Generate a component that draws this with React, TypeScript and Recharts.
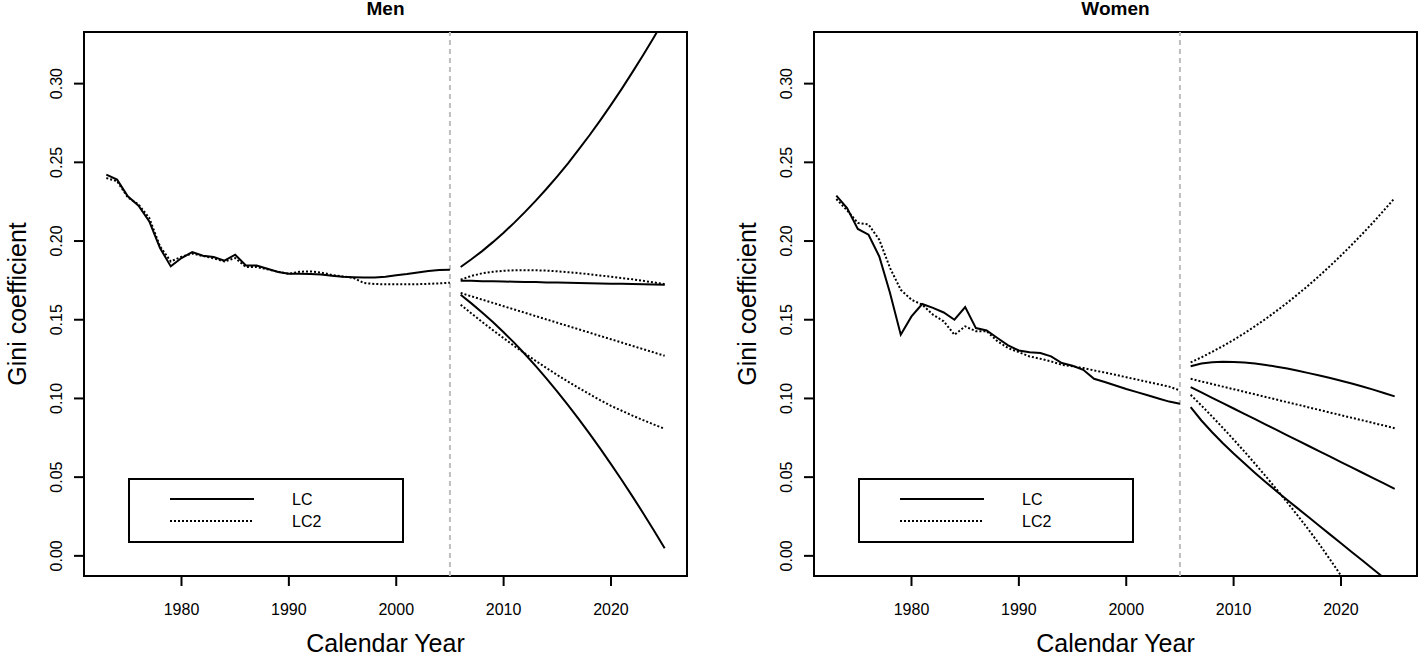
import { LineChart, Line, XAxis, YAxis, ReferenceLine, ReferenceArea, Legend, Label } from 'recharts';

const histYears = [
    1973, 1974, 1975, 1976, 1977, 1978, 1979, 1980, 1981, 1982, 1983, 1984, 1985, 1986, 1987, 1988, 1989,
    1990, 1991, 1992, 1993, 1994, 1995, 1996, 1997, 1998, 1999, 2000, 2001, 2002, 2003, 2004, 2005,
];
const projYears = [
    2006, 2007, 2008, 2009, 2010, 2011, 2012, 2013, 2014, 2015, 2016, 2017, 2018, 2019, 2020, 2021, 2022,
    2023, 2024, 2025,
];
const xTicks = [1980, 1990, 2000, 2010, 2020];
const yTicks = [0, 0.05, 0.1, 0.15, 0.2, 0.25, 0.3];
const cutYear = 2005;

// Men
const menLcHist = [
    0.2422, 0.239, 0.2284, 0.2225, 0.2125, 0.1956, 0.1839, 0.1892, 0.193, 0.1907, 0.1898, 0.1875, 0.1913,
    0.1845, 0.1845, 0.1824, 0.1803, 0.1792, 0.1792, 0.179, 0.1788, 0.178, 0.1773, 0.177, 0.1768, 0.1768,
    0.1773, 0.1782, 0.179, 0.18, 0.181, 0.1816, 0.1818,
];
const menLc2Hist = [
    0.24, 0.238, 0.2277, 0.2232, 0.2146, 0.1966, 0.187, 0.19, 0.192, 0.1905, 0.189, 0.187, 0.1892, 0.1835,
    0.1835, 0.182, 0.1805, 0.1792, 0.1805, 0.1807, 0.18, 0.1785, 0.1775, 0.1766, 0.1733, 0.1727, 0.1725,
    0.1725, 0.1725, 0.1726, 0.1728, 0.1731, 0.1735,
];
const menLcHigh = [
    0.1835, 0.1884, 0.1936, 0.1993, 0.2053, 0.2117, 0.2185, 0.2257, 0.2332, 0.2411, 0.2494, 0.2582, 0.2672,
    0.2767, 0.2865, 0.2967, 0.3073, 0.3182, 0.3295, 0.3412,
];
const menLcMid = [
    0.1748, 0.1747, 0.1745, 0.1744, 0.1743, 0.1741, 0.174, 0.1739, 0.1737, 0.1736, 0.1735, 0.1733, 0.1732,
    0.1731, 0.1729, 0.1728, 0.1727, 0.1725, 0.1724, 0.1722,
];
const menLcLow = [
    0.1659, 0.1604, 0.1546, 0.1485, 0.1421, 0.1353, 0.1281, 0.1205, 0.1126, 0.1043, 0.0957, 0.0868, 0.0776,
    0.0681, 0.0583, 0.0482, 0.0378, 0.0271, 0.0161, 0.0048,
];
const menLc2High = [
    0.1755, 0.1778, 0.1795, 0.1805, 0.1811, 0.1814, 0.1815, 0.1814, 0.1812, 0.1808, 0.1802, 0.1796, 0.1789,
    0.1781, 0.1773, 0.1765, 0.1757, 0.1747, 0.1737, 0.1726,
];
const menLc2Mid = [
    0.167, 0.1649, 0.1628, 0.1607, 0.1586, 0.1565, 0.1544, 0.1523, 0.1502, 0.1481, 0.146, 0.1439, 0.1418,
    0.1397, 0.1376, 0.1355, 0.1334, 0.1313, 0.1292, 0.1271,
];
const menLc2Low = [
    0.1595, 0.154, 0.1486, 0.1434, 0.1383, 0.1333, 0.1285, 0.1238, 0.1193, 0.1149, 0.1107, 0.1066, 0.1027,
    0.0989, 0.0953, 0.0922, 0.0891, 0.0862, 0.0834, 0.0807,
];

// Women
const womenLcHist = [
    0.2288, 0.221, 0.2077, 0.204, 0.1902, 0.167, 0.1405, 0.1521, 0.16, 0.1575, 0.1546, 0.15, 0.158, 0.1447,
    0.1432, 0.1384, 0.1337, 0.1305, 0.1294, 0.1288, 0.1267, 0.1225, 0.1208, 0.1182, 0.1125, 0.1104, 0.1082,
    0.106, 0.104, 0.102, 0.1, 0.098, 0.0966,
];
const womenLc2Hist = [
    0.2267, 0.2195, 0.2115, 0.2105, 0.2008, 0.1829, 0.169, 0.1627, 0.1596, 0.1532, 0.149, 0.1405, 0.1458,
    0.1427, 0.1427, 0.1364, 0.132, 0.1294, 0.1267, 0.1252, 0.1235, 0.1214, 0.1204, 0.1193, 0.1178, 0.1165,
    0.115, 0.1135, 0.112, 0.1105, 0.109, 0.1075, 0.1051,
];
const womenLcHigh = [
    0.1205, 0.1222, 0.123, 0.1233, 0.1232, 0.1228, 0.1222, 0.1213, 0.1202, 0.119, 0.1176, 0.1161, 0.1146,
    0.113, 0.1113, 0.1095, 0.1076, 0.1056, 0.1035, 0.1013,
];
const womenLcMid = [
    0.1072, 0.1038, 0.1004, 0.097, 0.0936, 0.0902, 0.0868, 0.0834, 0.08, 0.0766, 0.0732, 0.0698, 0.0664,
    0.063, 0.0596, 0.0562, 0.0528, 0.0494, 0.046, 0.0426,
];
const womenLcLow = [
    0.0945, 0.086, 0.0785, 0.0715, 0.065, 0.0588, 0.0527, 0.0468, 0.0411, 0.0355, 0.03, 0.0245, 0.019,
    0.0135, 0.008, 0.0025, -0.003, -0.0085, -0.014, -0.0195,
];
const womenLc2High = [
    0.1229, 0.1261, 0.1296, 0.1333, 0.1372, 0.1414, 0.1459, 0.1506, 0.1556, 0.1608, 0.1663, 0.172, 0.178,
    0.1843, 0.1908, 0.1976, 0.2046, 0.2119, 0.2195, 0.2273,
];
const womenLc2Mid = [
    0.1125, 0.1108, 0.1092, 0.1075, 0.1059, 0.1042, 0.1026, 0.1009, 0.0993, 0.0976, 0.096, 0.0943, 0.0927,
    0.091, 0.0894, 0.0877, 0.0861, 0.0844, 0.0828, 0.0811,
];
const womenLc2Low = [
    0.1023, 0.0955, 0.0885, 0.0813, 0.0739, 0.0663, 0.0585, 0.0505, 0.0423, 0.0339, 0.0253, 0.0165, 0.0072,
    -0.0025, -0.0125, -0.0227, -0.0332, -0.044, -0.055, -0.0663,
];

const X_DOMAIN: [number, number] = [1970.92, 2027.08];
const Y_DOMAIN: [number, number] = [-0.0128, 0.3328];

interface PanelSeries {
    lc: number[];
    lc2: number[];
    lcHigh: number[];
    lcMid: number[];
    lcLow: number[];
    lc2High: number[];
    lc2Mid: number[];
    lc2Low: number[];
}

function buildRows(s: PanelSeries) {
    const hist = histYears.map((year, i) => ({ year, lc: s.lc[i], lc2: s.lc2[i] }));
    const proj = projYears.map((year, i) => ({
        year,
        lcHigh: s.lcHigh[i],
        lcMid: s.lcMid[i],
        lcLow: s.lcLow[i],
        lc2High: s.lc2High[i],
        lc2Mid: s.lc2Mid[i],
        lc2Low: s.lc2Low[i],
    }));
    return [...hist, ...proj];
}

const YTick = (props: any) => {
    const { x, y, payload } = props;
    return (
        <text
            transform={`translate(${x},${y}) rotate(-90)`}
            textAnchor="middle"
            fontSize={16}
            fill="#000"
        >
            {Number(payload.value).toFixed(2)}
        </text>
    );
};

const LegendBox = (props: any) => {
    // only the two historical series carry a legend entry
    const items = (props.payload ?? []).filter((e: any) => e.value === 'LC' || e.value === 'LC2');
    return (
        <svg width={276} height={65} style={{ display: 'block' }}>
            <rect x={1} y={1} width={274} height={63} fill="none" stroke="#000" strokeWidth={2} />
            {items.map((entry: any, i: number) => {
                const rowY = 21 + 22 * i;
                const dash = entry.value === 'LC2' ? '2 2' : undefined;
                return (
                    <g key={entry.value}>
                        <line x1={42} x2={126} y1={rowY} y2={rowY} stroke="#000" strokeWidth={2} strokeDasharray={dash} />
                        <text x={164} y={rowY} dy="0.36em" fontSize={16} fill="#000">
                            {entry.value}
                        </text>
                    </g>
                );
            })}
        </svg>
    );
};

const projKeys = ['lcHigh', 'lcMid', 'lcLow', 'lc2High', 'lc2Mid', 'lc2Low'];

function Panel({ title, series, left }: { title: string; series: PanelSeries; left: number }) {
    const rows = buildRows(series);
    return (
        <div style={{ position: 'absolute', left, top: 0 }}>
            <LineChart width={688} height={655} data={rows} margin={{ top: 32, right: 1, bottom: 49, left: 24 }}>
                <XAxis
                    dataKey="year"
                    type="number"
                    domain={X_DOMAIN}
                    ticks={xTicks}
                    allowDataOverflow
                    height={30}
                    axisLine={false}
                    tickSize={10}
                    tickMargin={18}
                    tickLine={{ stroke: '#000', strokeWidth: 2 }}
                    tick={{ fill: '#000', fontSize: 16 }}
                >
                    <Label
                        content={(p: any) => {
                            const vb = p.viewBox;
                            return (
                                <text x={vb.x + vb.width / 2} y={652} textAnchor="middle" fontSize={25} fill="#000">
                                    Calendar Year
                                </text>
                            );
                        }}
                    />
                </XAxis>
                <YAxis
                    type="number"
                    domain={Y_DOMAIN}
                    ticks={yTicks}
                    allowDataOverflow
                    width={60}
                    axisLine={false}
                    tickSize={10}
                    tickMargin={12}
                    tickLine={{ stroke: '#000', strokeWidth: 2 }}
                    tick={<YTick />}
                >
                    <Label
                        content={(p: any) => {
                            const vb = p.viewBox;
                            const cy = vb.y + vb.height / 2;
                            return (
                                <g>
                                    <text
                                        transform={`translate(26,${cy}) rotate(-90)`}
                                        textAnchor="middle"
                                        fontSize={25}
                                        fill="#000"
                                    >
                                        Gini coefficient
                                    </text>
                                    <text x={385.5} y={15} textAnchor="middle" fontSize={19} fontWeight="bold" fill="#000">
                                        {title}
                                    </text>
                                </g>
                            );
                        }}
                    />
                </YAxis>
                <ReferenceLine x={cutYear} stroke="#BEBEBE" strokeWidth={2} strokeDasharray="5 4" />
                <Line dataKey="lc" name="LC" stroke="#000" strokeWidth={2} dot={false} isAnimationActive={false} />
                <Line
                    dataKey="lc2"
                    name="LC2"
                    stroke="#000"
                    strokeWidth={2}
                    strokeDasharray="2 2"
                    dot={false}
                    isAnimationActive={false}
                />
                {projKeys.map(k => (
                    <Line
                        key={k}
                        dataKey={k}
                        stroke="#000"
                        strokeWidth={2}
                        strokeDasharray={k.startsWith('lc2') ? '2 2' : undefined}
                        dot={false}
                        legendType="none"
                        isAnimationActive={false}
                    />
                ))}
                <ReferenceArea
                    x1={X_DOMAIN[0]}
                    x2={X_DOMAIN[1]}
                    y1={Y_DOMAIN[0]}
                    y2={Y_DOMAIN[1]}
                    fill="none"
                    fillOpacity={0}
                    stroke="#000"
                    strokeWidth={2}
                />
                <Legend
                    layout="vertical"
                    align="center"
                    verticalAlign="middle"
                    content={<LegendBox />}
                    wrapperStyle={{ left: 128, top: 478, width: 276, height: 65, right: 'auto', bottom: 'auto' }}
                />
            </LineChart>
        </div>
    );
}

export default function App() {
    return (
        <div
            style={{
                position: 'absolute',
                left: 0,
                top: 0,
                width: 1418,
                height: 655,
                background: '#fff',
                overflow: 'hidden',
                fontFamily: '"Liberation Sans", Arial, Helvetica, sans-serif',
            }}
        >
            <Panel
                title="Men"
                left={0}
                series={{
                    lc: menLcHist,
                    lc2: menLc2Hist,
                    lcHigh: menLcHigh,
                    lcMid: menLcMid,
                    lcLow: menLcLow,
                    lc2High: menLc2High,
                    lc2Mid: menLc2Mid,
                    lc2Low: menLc2Low,
                }}
            />
            <Panel
                title="Women"
                left={730}
                series={{
                    lc: womenLcHist,
                    lc2: womenLc2Hist,
                    lcHigh: womenLcHigh,
                    lcMid: womenLcMid,
                    lcLow: womenLcLow,
                    lc2High: womenLc2High,
                    lc2Mid: womenLc2Mid,
                    lc2Low: womenLc2Low,
                }}
            />
        </div>
    );
}
